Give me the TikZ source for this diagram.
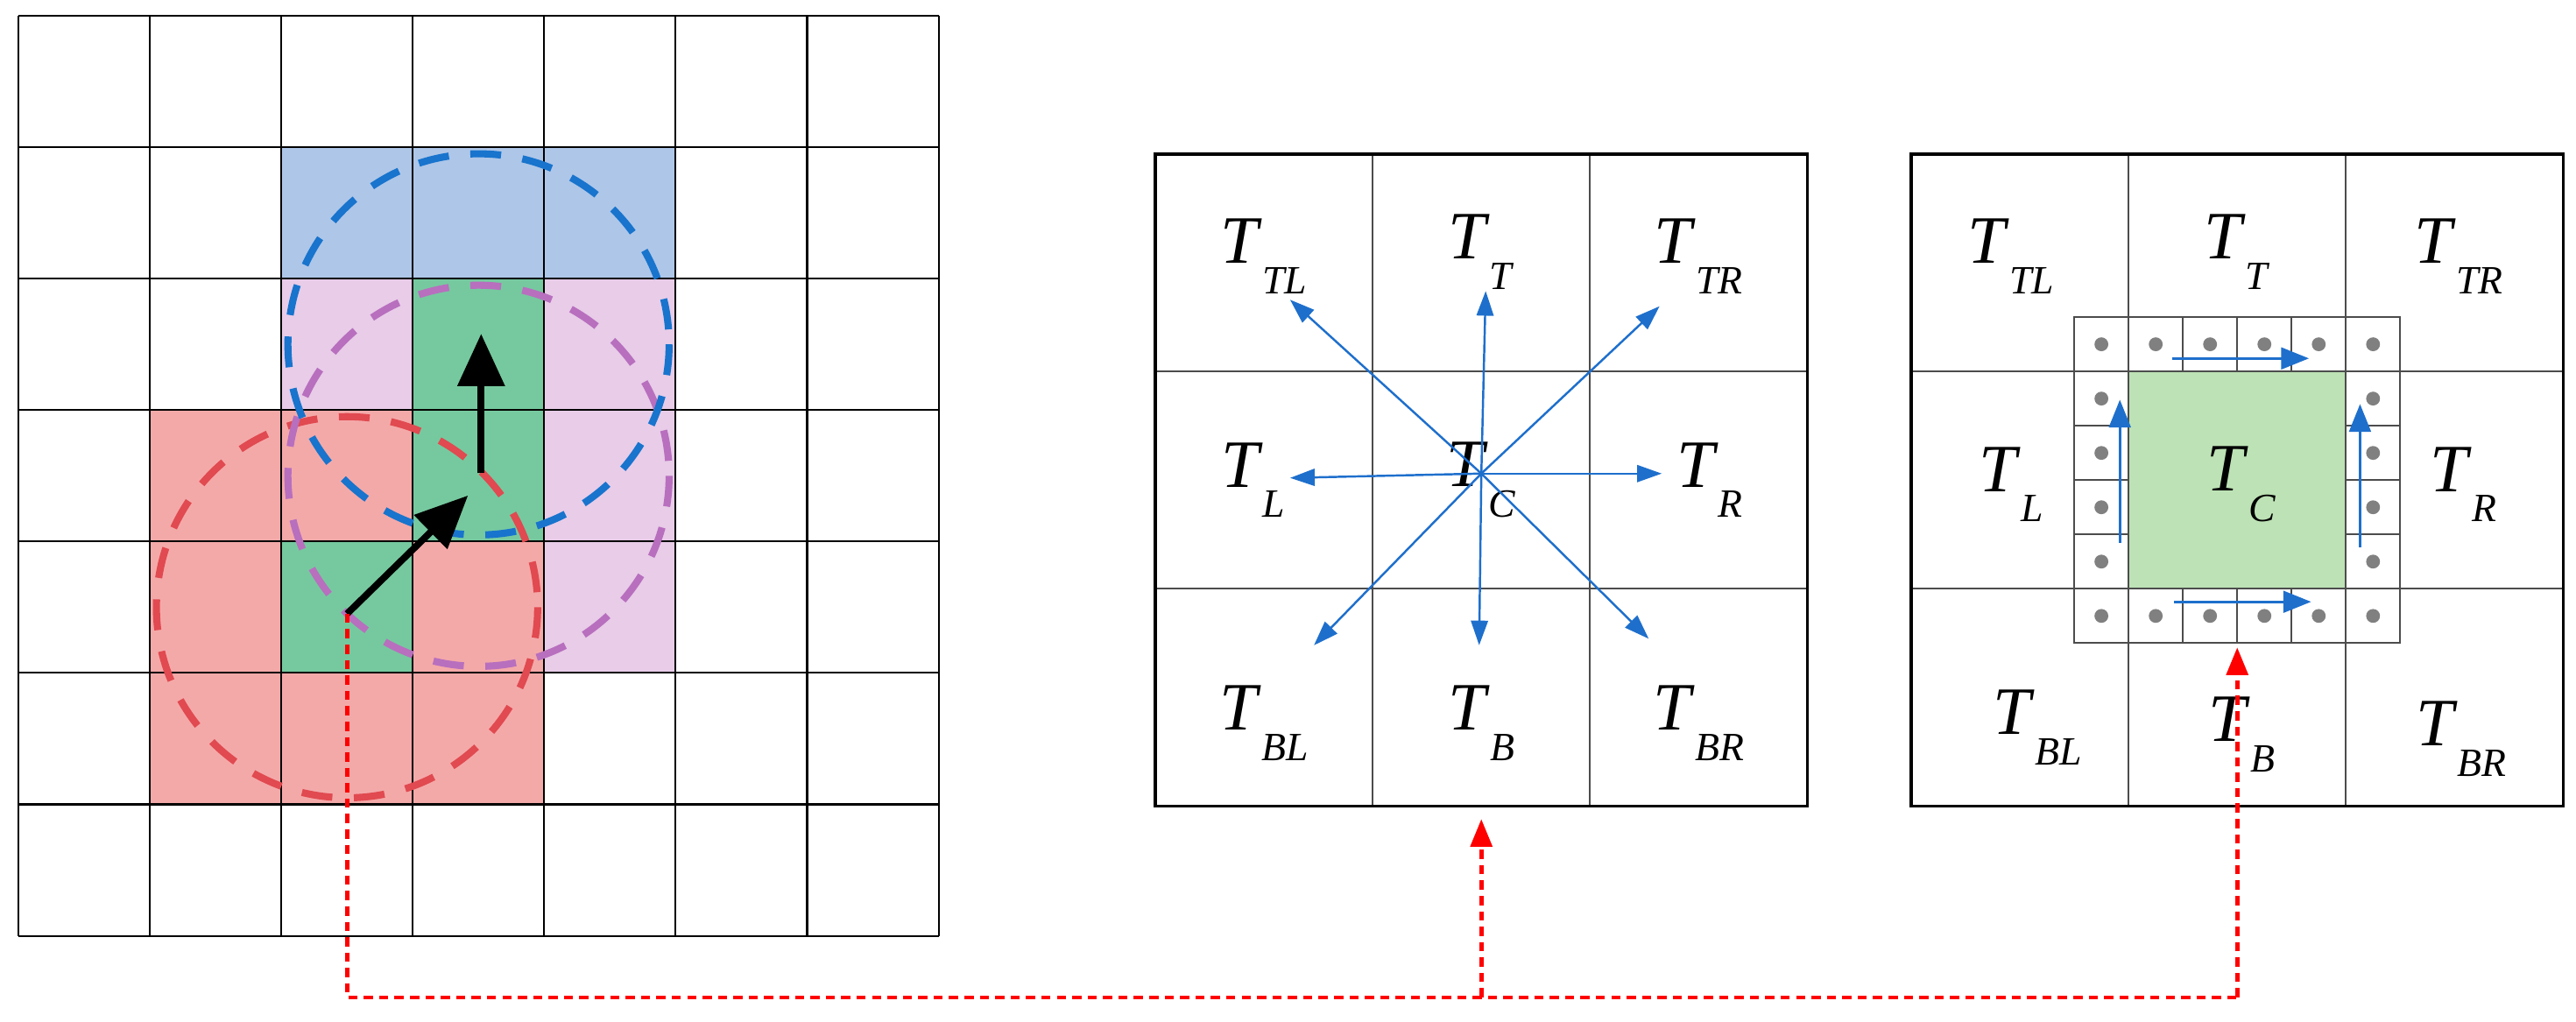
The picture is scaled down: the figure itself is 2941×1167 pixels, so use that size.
\documentclass[tikz,border=0pt]{standalone}
\usepackage{fontspec}
\setmainfont{Liberation Serif}
\usetikzlibrary{arrows.meta}
\definecolor{bfill}{HTML}{AEC6E8}
\definecolor{pfill}{HTML}{E8CCE8}
\definecolor{gfill}{HTML}{76C99F}
\definecolor{rfill}{HTML}{F4A9A9}
\definecolor{bline}{HTML}{1874CD}
\definecolor{pline}{HTML}{B86FBE}
\definecolor{rline}{HTML}{E04A50}
\definecolor{lgreen}{HTML}{BDE2B5}
\definecolor{arrblue}{HTML}{1E6FCC}
\newcommand{\lab}[1]{\textit{T}\raisebox{-0.45em}{\fontsize{13}{13}\selectfont\textit{#1}}}
\tikzset{
  grid/.style={draw=black,line width=0.6pt},
  dcirc/.style={line width=2.3pt,dash pattern=on 10pt off 7pt},
  blk/.style={line width=2.2pt,-{Triangle[length=17pt,width=15pt]}},
  red dot/.style={draw=red,line width=1.3pt,dash pattern=on 3pt off 2pt},
  red tip/.style={red dot,-{Triangle[length=9pt,width=7pt]}},
  barr/.style={draw=arrblue,line width=0.7pt,-{Triangle[length=8pt,width=5.5pt]}},
  barr2/.style={draw=arrblue,line width=0.9pt,-{Triangle[length=9pt,width=7pt]}},
  tl/.style={font=\fontsize{22}{22}\selectfont,inner sep=0pt},
  gdot/.style={circle,fill=gray,inner sep=0pt,minimum size=4.5pt}
}
\begin{document}
\begin{tikzpicture}[x=0.01cm,y=-0.01cm]
\useasboundingbox (0,0) rectangle (2941,1167);
% left grid
\begin{scope}[shift={(21,18)},x=1.5cm,y=-1.5cm]
  \fill[bfill] (2,1) rectangle (5,2);
  \fill[pfill] (2,2) rectangle (3,3) (4,2) rectangle (5,5);
  \fill[gfill] (3,2) rectangle (4,4) (2,4) rectangle (3,5);
  \fill[rfill] (1,3) rectangle (3,4) (1,4) rectangle (2,6) (2,5) rectangle (4,6) (3,4) rectangle (4,5);
  \foreach \i in {0,...,7} \draw[grid] (\i,0) -- (\i,7) (0,\i) -- (7,\i);
  \draw[dcirc,rline] (2.5,4.5) circle[radius=1.45];
  \draw[dcirc,pline] (3.5,3.5) circle[radius=1.45];
  \draw[dcirc,bline] (3.5,2.5) circle[radius=1.45];
  \coordinate (s1) at (2.5,4.55);
  \coordinate (e1) at (3.42,3.65);
  \coordinate (s2) at (3.52,3.48);
  \coordinate (e2) at (3.52,2.42);
  \draw[blk] (s1) -- (e1);
  \draw[blk] (s2) -- (e2);
\end{scope}
% middle panel
\begin{scope}[shift={(1319,176)},x=2.48cm,y=-2.48cm]
  \draw[draw=black!70,line width=0.5pt] (1,0) -- (1,3) (2,0) -- (2,3) (0,1) -- (3,1) (0,2) -- (3,2);
  \draw[line width=1pt] (0,0) rectangle (3,3);
  \node[tl] (mTL) at (0.5,0.47) {\lab{TL}};
  \node[tl] (mT) at (1.5,0.45) {\lab{T}};
  \node[tl] (mTR) at (2.5,0.47) {\lab{TR}};
  \node[tl] (mL) at (0.45,1.5) {\lab{L}};
  \node[tl] (mC) at (1.5,1.5) {\lab{C}};
  \node[tl] (mR) at (2.55,1.5) {\lab{R}};
  \node[tl] (mBL) at (0.5,2.62) {\lab{BL}};
  \node[tl] (mB) at (1.5,2.62) {\lab{B}};
  \node[tl] (mBR) at (2.5,2.62) {\lab{BR}};
  \coordinate (c) at (1.5,1.47);
  \coordinate (aTL) at (0.62,0.67);
  \coordinate (aT) at (1.52,0.63);
  \coordinate (aTR) at (2.32,0.7);
  \coordinate (aL) at (0.62,1.49);
  \coordinate (aR) at (2.33,1.47);
  \coordinate (aBL) at (0.73,2.26);
  \coordinate (aB) at (1.49,2.26);
  \coordinate (aBR) at (2.27,2.23);
  \foreach \p in {aTL,aT,aTR,aL,aR,aBL,aB,aBR} \draw[barr] (c) -- (\p);
  \coordinate (mbot) at (1.5,3.06);
\end{scope}
% right panel
\begin{scope}[shift={(2182,176)},x=2.48cm,y=-2.48cm]
  \fill[lgreen] (1,1) rectangle (2,2);
  \draw[draw=black!70,line width=0.5pt] (1,0) -- (1,3) (2,0) -- (2,3) (0,1) -- (3,1) (0,2) -- (3,2);
  \draw[draw=black!70,line width=0.5pt] (0.75,0.75) rectangle (2.25,2.25)
    (0.75,1) -- (2.25,1) (0.75,2) -- (2.25,2) (1,0.75) -- (1,2.25) (2,0.75) -- (2,2.25);
  \foreach \i in {1.25,1.5,1.75} {
    \draw[draw=black!70,line width=0.5pt] (\i,0.75) -- (\i,1) (\i,2) -- (\i,2.25)
      (0.75,\i) -- (1,\i) (2,\i) -- (2.25,\i);}
  \foreach \i in {0.875,1.125,1.375,1.625,1.875,2.125} {
    \node[gdot] at (\i,0.875) {}; \node[gdot] at (\i,2.125) {};}
  \foreach \i in {1.125,1.375,1.625,1.875} {
    \node[gdot] at (0.875,\i) {}; \node[gdot] at (2.125,\i) {};}
  \draw[line width=1pt] (0,0) rectangle (3,3);
  \node[tl] (rTL) at (0.46,0.47) {\lab{TL}};
  \node[tl] (rT) at (1.5,0.45) {\lab{T}};
  \node[tl] (rTR) at (2.52,0.47) {\lab{TR}};
  \node[tl] (rL) at (0.46,1.52) {\lab{L}};
  \node[tl] (rC) at (1.52,1.52) {\lab{C}};
  \node[tl] (rR) at (2.54,1.52) {\lab{R}};
  \node[tl] (rBL) at (0.58,2.64) {\lab{BL}};
  \node[tl] (rB) at (1.52,2.67) {\lab{B}};
  \node[tl] (rBR) at (2.53,2.69) {\lab{BR}};
  \coordinate (t1) at (1.2,0.94); \coordinate (t2) at (1.83,0.94);
  \coordinate (b1) at (1.21,2.06); \coordinate (b2) at (1.84,2.06);
  \coordinate (l1) at (0.96,1.79); \coordinate (l2) at (0.96,1.13);
  \coordinate (r1) at (2.065,1.81); \coordinate (r2) at (2.065,1.15);
  \draw[barr2] (t1) -- (t2);
  \draw[barr2] (b1) -- (b2);
  \draw[barr2] (l1) -- (l2);
  \draw[barr2] (r1) -- (r2);
  \coordinate (rbot) at (1.5,2.27);
\end{scope}
% red dotted connector
\coordinate (k1) at (s1 |- 0,1139);
\coordinate (k2) at (rbot |- 0,1139);
\coordinate (k3) at (mbot |- 0,1139);
\draw[red dot] (s1) -- (k1) -- (k2);
\draw[red tip] (k2) -- (rbot);
\draw[red tip] (k3) -- (mbot);
\end{tikzpicture}
\end{document}
